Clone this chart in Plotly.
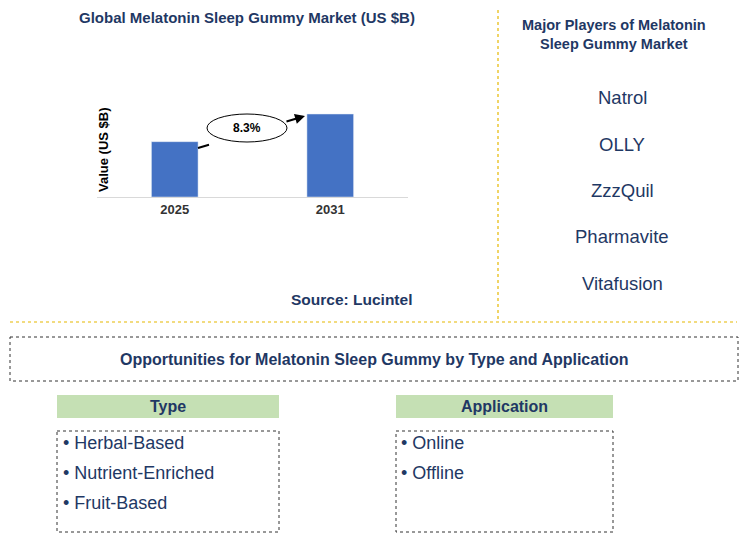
import plotly.graph_objects as go

OFF = 8
W, H = 751 - OFF, 548 - OFF
years = ["2025", "2031"]
values = [1.0, 1.5]
cagr_label = "8.3%"
players = ["Natrol", "OLLY", "ZzzQuil", "Pharmavite", "Vitafusion"]
types = ["Herbal-Based", "Nutrient-Enriched", "Fruit-Based"]
apps = ["Online", "Offline"]

def px(x): return (x - OFF) / W
def py(y): return 1 - (y - OFF) / H

fig = go.Figure(go.Bar(x=years, y=values, marker_color="#4472C4", width=0.3))
fig.update_layout(
    width=W, height=H, margin=dict(l=0, r=0, t=0, b=0),
    paper_bgcolor="white", plot_bgcolor="white", showlegend=False,
    font=dict(family="Liberation Sans, Arial", color="black"),
    xaxis=dict(domain=[px(97), px(408)], showline=True, linecolor="#d9d9d9",
               tickfont=dict(size=13, color="#333", family="Liberation Sans, Arial"),
               ticks="", tickprefix="<b>", ticksuffix="</b>"),
    yaxis=dict(domain=[py(197), py(88)], range=[0, 1.97], visible=False),
)
dot_gold = dict(color="#E6B800", width=1.2, dash="dot")
dot_dark = dict(color="#333", width=1, dash="dot")
shapes = [
    dict(type="line", xref="paper", yref="paper", x0=px(498), x1=px(498), y0=py(10), y1=py(320), line=dot_gold),
    dict(type="line", xref="paper", yref="paper", x0=px(10), x1=px(737), y0=py(322), y1=py(322), line=dot_gold),
    dict(type="rect", xref="paper", yref="paper", x0=px(10), x1=px(738), y0=py(337), y1=py(381), line=dot_dark),
    dict(type="rect", xref="paper", yref="paper", x0=px(57), x1=px(279), y0=py(395), y1=py(418), fillcolor="#C5E0B4", line=dict(width=0)),
    dict(type="rect", xref="paper", yref="paper", x0=px(396), x1=px(613), y0=py(395), y1=py(418), fillcolor="#C5E0B4", line=dict(width=0)),
    dict(type="rect", xref="paper", yref="paper", x0=px(57), x1=px(279), y0=py(431), y1=py(532), line=dot_dark),
    dict(type="rect", xref="paper", yref="paper", x0=px(396), x1=px(613), y0=py(431), y1=py(532), line=dot_dark),
    dict(type="line", xref="paper", yref="paper", x0=px(198), x1=px(209), y0=py(148), y1=py(144.7), line=dict(color="black", width=2)),
    dict(type="circle", xref="paper", yref="paper", x0=px(207), x1=px(287), y0=py(114), y1=py(142),
         fillcolor="white", line=dict(color="black", width=1)),
]
fig.update_layout(shapes=shapes)

ann = []
def T(x, y, t, size=14, color="black", bold=False, anchor="center", **kw):
    ann.append(dict(xref="paper", yref="paper", x=px(x), y=py(y), text=("<b>%s</b>" % t) if bold else t,
                    showarrow=False, font=dict(size=size, color=color), xanchor=anchor, yanchor="middle", **kw))

T(247, 18, "Global Melatonin Sleep Gummy Market (US $B)", 15, "#1F3864", True)
T(103, 150, "Value (US $B)", 13, "black", True, textangle=-90)
T(351, 299, "Source: Lucintel", 15.5, "#1F3864", True)
T(614, 34, "Major Players of Melatonin<br>Sleep Gummy Market", 14.5, "#1F3864", True)
for i, p in enumerate(players):
    T(622, 98 + i * 46.3, p, 18.5, "#1F3864")
T(374, 359, "Opportunities for Melatonin Sleep Gummy by Type and Application", 16, "#1F3864", True)
T(168, 406, "Type", 16, "#1F3864", True)
T(504, 406, "Application", 16, "#1F3864", True)
for i, t in enumerate(types):
    T(61, 443 + i * 30, "• " + t, 18, "#1F3864", anchor="left")
for i, t in enumerate(apps):
    T(399, 443 + i * 30, "• " + t, 18, "#1F3864", anchor="left")
T(247, 128, cagr_label, 12, "black", True)
ann.append(dict(xref="paper", yref="paper", axref="pixel", ayref="pixel",
                x=px(305), y=py(116), ax=-20, ay=6, text="", showarrow=True,
                arrowhead=2, arrowsize=1, arrowwidth=2, arrowcolor="black", standoff=0))
fig.update_layout(annotations=ann)
fig.write_html("out.html")
